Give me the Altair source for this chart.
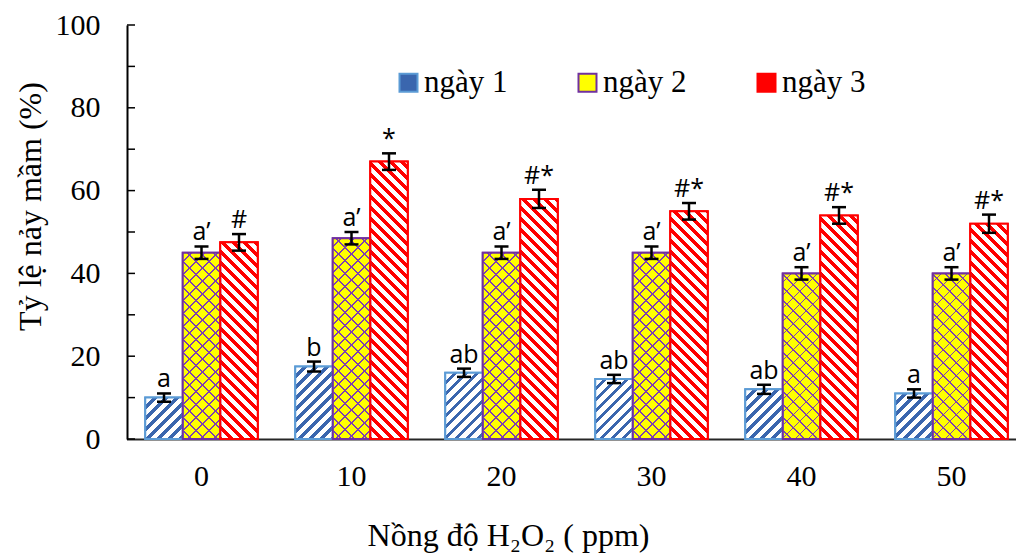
import altair as alt
import pandas as pd

# ---------------- data ----------------
conc = ["0", "10", "20", "30", "40", "50"]
series = ["ngày 1", "ngày 2", "ngày 3"]
day1 = [10.0, 17.5, 16.0, 14.5, 12.0, 11.0]
day2 = [45.0, 48.5, 45.0, 45.0, 40.0, 40.0]
day3 = [47.5, 67.0, 58.0, 55.0, 54.0, 52.0]
err1 = [1.0, 1.2, 1.0, 1.0, 1.1, 1.0]
err2 = [1.5, 1.5, 1.5, 1.5, 1.5, 1.5]
err3 = [2.0, 2.0, 2.2, 2.0, 2.0, 2.2]
lab1 = ["a", "b", "ab", "ab", "ab", "a"]
lab2 = ["a’", "a’", "a’", "a’", "a’", "a’"]
lab3 = ["#", "*", "#*", "#*", "#*", "#*"]
y_ticks = [0, 10, 20, 30, 40, 50, 60, 70, 80, 90, 100]
y_labels = [0, 20, 40, 60, 80, 100]

# ---------------- layout / style ----------------
PAD_L, PAD_T, PAD_R, PAD_B = 127, 25, 0, 119
PLOT_W, PLOT_H = 1016 - PAD_L - PAD_R, 558 - PAD_T - PAD_B
STEP = 150.0
OUTER = 0.5
BAR_W = STEP / (3 + 2 * OUTER)

BLUE_EDGE, BLUE_STRIPE = "#5B9BD5", "#3A66AE"
YEL, PURPLE = "#FFFF00", "#7030A0"
RED = "#FF0000"
SERIF = "Liberation Serif"
Y_TITLE = "Tỷ lệ nảy mầm (%)"

rows = []
vals = [day1, day2, day3]
errs = [err1, err2, err3]
labs = [lab1, lab2, lab3]
for i, c in enumerate(conc):
    for j, s in enumerate(series):
        v, e = vals[j][i], errs[j][i]
        rows.append(dict(idx=len(rows), conc=c, series=s, value=v,
                         lo=v - e, hi=v + e, label=labs[j][i]))
df = pd.DataFrame(rows)


def stripes(h, w, period, on, c_on, c_off, direction, phase=0.0):
    """Hard-stop linear gradient that looks like 45-degree hatching."""
    L = w + h
    a = w * L / (w * w + h * h)
    if direction == "/":
        x1, y1, x2, y2 = 0, 0, a, a * h / w
    else:
        x1, y1, x2, y2 = 0, 1, a, 1 - a * h / w
    stops = []
    s = -phase
    while s < L:
        s0 = max(s, 0.0)
        e = min(s + on, L)
        n = min(s + period, L)
        if e > s0:
            stops += [{"offset": s0 / L, "color": c_on}, {"offset": e / L, "color": c_on}]
        if n > max(e, 0.0):
            stops += [{"offset": max(e, 0.0) / L, "color": c_off}, {"offset": n / L, "color": c_off}]
        s += period
    return {"gradient": "linear", "x1": x1, "y1": y1, "x2": x2, "y2": y2, "stops": stops}


main_conds, over_conds = [], []
for r in rows:
    h = r["value"] / 100.0 * PLOT_H
    if r["series"] == "ngày 1":
        g = stripes(h, BAR_W, 11.0, 4.6, BLUE_STRIPE, "white", "/", 3)
        main_conds.append({"test": f"datum.idx === {r['idx']}", "value": g})
    elif r["series"] == "ngày 2":
        g = stripes(h, BAR_W, 13.0, 1.6, "#8040B0", YEL, "/", 5)
        main_conds.append({"test": f"datum.idx === {r['idx']}", "value": g})
        g2 = stripes(h, BAR_W, 13.0, 1.6, "#8040B0", "rgba(255,255,255,0)", "\\", 5)
        over_conds.append({"test": f"datum.idx === {r['idx']}", "value": g2})
    else:
        g = stripes(h, BAR_W, 11.0, 4.8, RED, "white", "\\", 2)
        main_conds.append({"test": f"datum.idx === {r['idx']}", "value": g})

x_axis = alt.Axis(title="Nồng độ H₂O₂ ( ppm)", labelAngle=0, ticks=False,
                  domainColor="#262626", domainWidth=2,
                  labelFont=SERIF, labelFontSize=30, labelColor="black",
                  labelPadding=22,
                  titleFont=SERIF, titleFontSize=32, titleFontWeight="normal",
                  titleColor="black", titleX=381, titleY=106,
                  titleAlign="center", titleBaseline="alphabetic")
x_scale = alt.Scale(domain=conc, range=[-0.5, STEP * 6 - 0.5], paddingInner=0, paddingOuter=0)
y_axis = alt.Axis(title=Y_TITLE, values=y_labels, ticks=False,
                  grid=False, domainColor="black", domainWidth=2,
                  labelFont=SERIF, labelFontSize=30, labelColor="black",
                  labelPadding=27,
                  titleFont=SERIF, titleFontSize=32, titleFontWeight="normal",
                  titleColor="black", titleX=-97, titleY=181,
                  titleAlign="center", titleBaseline="middle", titleAngle=-90)
y_scale = alt.Scale(domain=[0, 100], nice=False, zero=True)

X = lambda: alt.X("conc:N", sort=conc, scale=x_scale, axis=x_axis)
XO = lambda: alt.XOffset("series:N", sort=series,
                         scale=alt.Scale(domain=series, paddingInner=0, paddingOuter=OUTER))
Y = lambda f: alt.Y(f, scale=y_scale, axis=y_axis, title=Y_TITLE)

legend = alt.Legend(title=None, orient="none", legendX=266, legendY=42,
                    direction="horizontal", columns=3, columnPadding=64,
                    symbolType="square", symbolSize=324, symbolStrokeWidth=2,
                    labelFont=SERIF, labelFontSize=31, labelColor="black",
                    labelOffset=0, padding=0)

base = alt.Chart(df).mark_bar(strokeWidth=2).encode(
    x=X(), xOffset=XO(), y=Y("value:Q"),
    fill=alt.Fill("series:N", scale=alt.Scale(domain=series, range=[BLUE_STRIPE, YEL, RED]),
                  legend=legend),
    stroke=alt.Stroke("series:N", scale=alt.Scale(domain=series, range=[BLUE_EDGE, PURPLE, RED]),
                      legend=legend),
)

pattern = alt.Chart(df).mark_bar().encode(
    x=X(), xOffset=XO(), y=Y("value:Q"),
    fill=alt.FillValue(value="white", condition=main_conds),
)

overlay = alt.Chart(df).transform_filter(alt.datum.series == "ngày 2").mark_bar().encode(
    x=X(), xOffset=XO(), y=Y("value:Q"),
    fill=alt.FillValue(value="rgba(255,255,255,0)", condition=over_conds),
)

outline = alt.Chart(df).mark_bar(fillOpacity=0, strokeWidth=2).encode(
    x=X(), xOffset=XO(), y=Y("value:Q"),
    stroke=alt.StrokeValue(value=RED, condition=[
        {"test": "datum.series === 'ngày 1'", "value": BLUE_EDGE},
        {"test": "datum.series === 'ngày 2'", "value": PURPLE},
    ]),
)

err_rule = alt.Chart(df).mark_rule(color="black", strokeWidth=2.5).encode(
    x=X(), xOffset=XO(), y=Y("lo:Q"), y2="hi:Q",
)

caps = alt.Chart(df).transform_fold(["lo", "hi"], as_=["k", "v"]).mark_tick(
    color="black", thickness=2.5, size=14, opacity=1).encode(
    x=X(), xOffset=XO(), y=Y("v:Q"),
)

labels = alt.Chart(df).mark_text(font="Open Sans", fontSize=25, baseline="alphabetic",
                                 dy=-6, color="black").encode(
    x=X(), xOffset=XO(), y=Y("hi:Q"), text="label:N",
)

yt = alt.Chart(pd.DataFrame({"t": y_ticks})).mark_rule(color="black", strokeWidth=1.5).encode(
    y=Y("t:Q"), x=alt.value(0), x2=alt.value(8),
)

chart = alt.layer(base, pattern, overlay, outline, err_rule, caps, labels, yt).properties(
    width=PLOT_W, height=PLOT_H,
    autosize=alt.AutoSizeParams(type="none"),
    padding={"left": PAD_L, "top": PAD_T, "right": PAD_R, "bottom": PAD_B},
    background="white",
).configure_view(stroke=None)

chart.save("out.html", embed_options={"renderer": "svg", "actions": False})
